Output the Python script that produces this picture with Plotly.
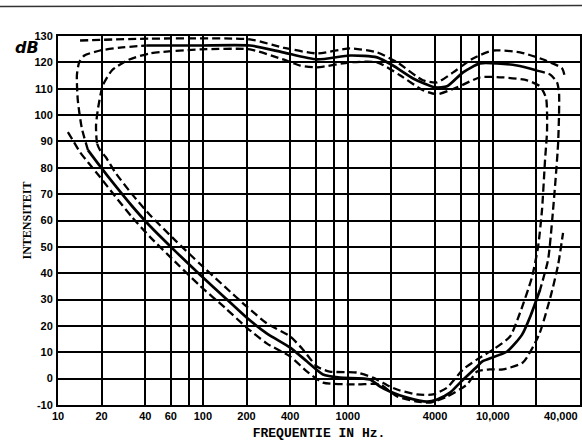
import plotly.graph_objects as go

# ---------------- data (frequency in Hz, level in dB) ----------------
# upper dashed boundary (threshold of feeling, upper)
U_f = [14.2, 43, 211, 357, 612, 1035, 1590, 2190, 3300, 4130, 5330, 7310, 10040, 15430, 21200, 30100, 31540]
U_db = [128.3, 129.0, 128.7, 125.6, 123.4, 125.3, 123.8, 120.0, 113.2, 112.4, 116.2, 121.5, 124.5, 123.8, 121.5, 117.7, 113.9]

# solid median curve, top part (feeling)
ST_f = [41, 95, 211, 357, 612, 1035, 1590, 2050, 2820, 4000, 4840, 6240, 8170, 10700, 14700, 20200]
ST_db = [126.4, 126.4, 126.4, 123.8, 121.1, 122.6, 121.9, 118.8, 113.9, 110.5, 110.9, 116.2, 119.6, 119.6, 118.8, 116.9]

# median curve, extrapolated right side (dashed)
SR_f = [20200, 24860, 27780, 28680, 28250, 26070, 24080, 21200]
SR_db = [116.9, 115.4, 112.4, 108.2, 89.3, 64.0, 45.1, 33.7]

# solid median curve, bottom part (threshold of hearing)
SB_f = [21200, 18370, 15930, 12560, 8440, 7800, 5950, 5070, 4130, 3520, 2560, 1950, 1670, 1420, 883, 674, 523,
        400, 277, 201, 142, 95.5, 65.2, 43.1, 32.4, 24.7, 19.5, 16.1]
SB_db = [33.7, 24.3, 16.7, 10.3, 6.5, 4.6, -1.5, -5.3, -7.9, -8.7, -7.2, -4.9, -3.0, -0.3, 0.4, 1.6, 6.5,
         11.8, 17.1, 23.1, 30.7, 39.4, 48.1, 57.9, 65.5, 73.4, 80.6, 86.7]

# median curve, extrapolated left side (dashed)
SL_f = [16.1, 14.6, 13.7, 13.5, 14.0, 15.2, 19.5, 26.8, 41]
SL_db = [86.7, 95.0, 105.6, 115.1, 120.0, 122.6, 124.5, 125.6, 126.4]

# inner dashed loop
I_f = [19.5, 18.6, 18.3, 18.9, 20.4, 23.6, 29.9, 43.1, 95.5, 211, 357, 468, 612, 1035, 1590, 2290, 3300, 4130,
       5670, 8170, 11780, 17250, 21200, 23330, 23700, 22950, 21870, 20540, 18670, 15430, 13160, 10040, 7800,
       6240, 4840, 3870, 3000, 2290, 1950, 1490, 1160, 750, 612, 491, 400, 277, 201, 142, 95.5, 65.2, 43.1,
       32.4, 24.7, 21.4, 19.5]
I_db = [86.7, 89.3, 96.1, 102.6, 111.3, 117.0, 120.7, 123.4, 124.9, 124.9, 121.1, 118.8, 118.1, 120.0, 120.0,
        115.1, 109.4, 107.9, 110.5, 114.3, 114.3, 113.2, 110.9, 106.4, 94.2, 82.9, 64.0, 50.0, 38.6, 25.0, 16.0,
        11.0, 7.3, 3.5, -3.4, -6.0, -6.0, -4.5, -3.0, 0.4, 2.3, 2.7, 4.6, 11.0, 16.0, 20.9, 27.3, 34.8, 43.5,
        52.2, 62.1, 70.0, 78.4, 84.0, 86.7]

# outer (lower) dashed threshold of hearing
O_f = [11.7, 12.9, 14.2, 16.1, 19.5, 24.7, 32.4, 43.1, 65.2, 95.5, 142, 201, 277, 400, 523, 674, 1160, 1670,
       2190, 3000, 3690, 4840, 6650, 7800, 9570, 11780, 16170, 20870, 25240, 28250, 30550]
O_db = [93.5, 89.7, 85.9, 82.1, 76.5, 69.3, 61.3, 53.8, 44.0, 35.2, 26.9, 19.3, 13.3, 8.4, 2.7, -1.5, -2.2,
        -2.2, -6.8, -8.7, -9.1, -6.8, -2.2, 2.7, 3.5, 3.5, 6.2, 16.7, 31.8, 43.2, 55.3]

# axis ticks
x_tickvals = [10, 20, 40, 60, 100, 200, 400, 1000, 4000, 10000, 40000]
x_ticktext = ["10", "20", "40", "60", "100", "200", "400", "1000", "4000", "10,000", ""]
x_last_label = "40,000"
x_minor_grid = [80, 600, 800, 2000, 6000, 8000, 20000]
y_tickvals = list(range(-10, 131, 10))
y_ticktext = [str(v) for v in y_tickvals]

# ---------------- figure ----------------
fig = go.Figure()

def add(xs, ys, dash, width):
    fig.add_trace(go.Scatter(x=xs, y=ys, mode="lines",
                             line=dict(color="black", width=width, dash=dash,
                                       shape="spline", smoothing=0.6),
                             showlegend=False, hoverinfo="skip"))

DASH = "8px,4px"
add(U_f, U_db, DASH, 2.3)
add(I_f, I_db, DASH, 2.3)
add(O_f, O_db, DASH, 2.3)
add(SR_f, SR_db, DASH, 2.3)
add(SL_f, SL_db, DASH, 2.3)
add(ST_f, ST_db, "solid", 2.7)
add(SB_f, SB_db, "solid", 2.7)

tickfont = dict(family="Liberation Sans Narrow, Liberation Sans, Arial", size=11, color="black", weight="bold")

fig.update_xaxes(
    type="log", range=[1, 4.60206], automargin=False,
    tickmode="array", tickvals=x_tickvals, ticktext=x_ticktext,
    showgrid=True, gridcolor="black", gridwidth=1.5,
    minor=dict(tickmode="array", tickvals=x_minor_grid, showgrid=True,
               gridcolor="black", gridwidth=1.5, ticks=""),
    showline=True, linecolor="black", linewidth=2, mirror=True,
    ticks="", tickfont=tickfont, zeroline=False,
    title=dict(text="FREQUENTIE IN Hz.",
               font=dict(family="Liberation Mono, DejaVu Sans Mono", size=13, color="black", weight="bold"),
               standoff=8),
)
fig.update_yaxes(
    range=[-10, 130], automargin=False,
    tickmode="array", tickvals=y_tickvals, ticktext=y_ticktext,
    showgrid=True, gridcolor="black", gridwidth=1.5,
    showline=True, linecolor="black", linewidth=2, mirror=True,
    ticks="", tickfont=tickfont, zeroline=False, ticklabelstandoff=1,
    title=dict(text="INTENSITEIT",
               font=dict(family="Liberation Serif, DejaVu Serif", size=12, color="black", weight="bold"),
               standoff=0),
)

# last x label, right-aligned at the frame edge so it stays inside the page
fig.add_annotation(text=x_last_label, xref="x", yref="paper",
                   x=4.60206, y=0, xanchor="right", yanchor="top", yshift=-3,
                   showarrow=False, font=tickfont)

# hand-written "dB" unit label
fig.add_annotation(text="<i><b>dB</b></i>", xref="paper", yref="paper",
                   x=(27 - 58) / 522, y=1 - (47 - 35.5) / 369.5,
                   xanchor="center", yanchor="middle", showarrow=False,
                   font=dict(family="DejaVu Sans", size=16, color="black"))

# scan-edge line at top
fig.add_shape(type="line", xref="paper", yref="paper",
              x0=-58 / 522, x1=1.004, y0=1 + (35.5 - 6) / 369.5, y1=1 + (35.5 - 5) / 369.5,
              line=dict(color="#333", width=1.5))

fig.update_layout(
    width=582, height=441,
    margin=dict(l=58, r=2, t=35.5, b=36),
    paper_bgcolor="white", plot_bgcolor="white",
)

fig.write_html("out.html")
